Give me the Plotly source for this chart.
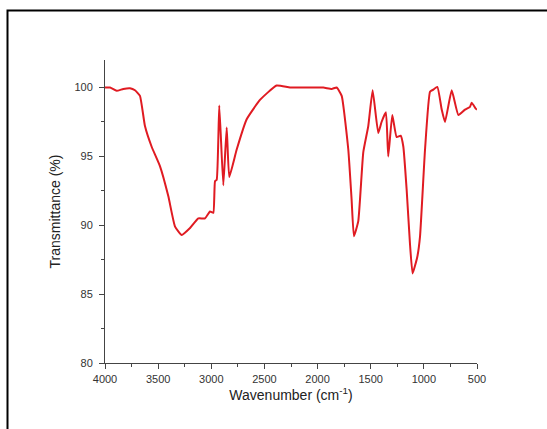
import plotly.graph_objects as go

wavenumber = [4000, 3953, 3890, 3828, 3765, 3718, 3671, 3624, 3561, 3483, 3404, 3341, 3278,
              3200, 3122, 3059, 3012, 2981, 2965, 2949, 2925, 2887, 2855, 2831, 2761, 2667,
              2542, 2385, 2259, 2100, 1946, 1867, 1820, 1773, 1711, 1680, 1658, 1617, 1570,
              1523, 1482, 1429, 1398, 1357, 1335, 1297, 1256, 1218, 1193, 1162, 1131, 1106,
              1062, 1036, 989, 942, 911, 873, 832, 801, 738, 675, 613, 566, 550, 510, 500]
transmittance = [100.0, 100.0, 99.76, 99.9, 99.95, 99.8, 99.4, 97.2, 95.7, 94.3, 92.1, 89.9, 89.3,
                 89.8, 90.5, 90.5, 91.0, 90.9, 93.2, 93.3, 98.7, 92.9, 97.1, 93.5, 95.5, 97.7,
                 99.1, 100.15, 100.0, 100.0, 100.0, 99.9, 100.0, 99.4, 95.5, 91.9, 89.2, 90.3, 95.3,
                 97.2, 99.8, 96.7, 97.5, 98.2, 95.0, 98.0, 96.4, 96.5, 95.7, 92.6, 88.7, 86.5,
                 87.7, 89.2, 95.5, 99.7, 99.85, 100.05, 98.4, 97.5, 99.8, 98.0, 98.4, 98.6, 98.9, 98.45, 98.4]

x_ticks = [4000, 3500, 3000, 2500, 2000, 1500, 1000, 500]
y_ticks = [80, 85, 90, 95, 100]

fig = go.Figure()
fig.add_trace(go.Scatter(x=wavenumber, y=transmittance, mode="lines",
                         line=dict(color="#e01b22", width=2, shape="spline", smoothing=0.4),
                         showlegend=False))

axis_font = dict(family="Liberation Sans, Arial, sans-serif", size=11, color="#333333")
title_font = dict(family="Liberation Sans, Arial, sans-serif", size=14, color="#222222")

fig.update_xaxes(range=[4000, 500], tickvals=x_ticks, ticks="outside", ticklen=5, tickwidth=1,
                 tickcolor="#444444", showline=True, linecolor="#444444", linewidth=1,
                 showgrid=False, zeroline=False, tickfont=axis_font, ticklabelstandoff=1,
                 minor=dict(dtick=250, ticks="outside", ticklen=3, tickcolor="#444444", showgrid=False),
                 title=dict(text="Wavenumber (cm<sup>-1</sup>)", font=title_font, standoff=2))
fig.update_yaxes(range=[80, 102], tickvals=y_ticks, ticks="outside", ticklen=5, tickwidth=1,
                 tickcolor="#444444", showline=True, linecolor="#444444", linewidth=1,
                 showgrid=False, zeroline=False, tickfont=axis_font, ticklabelstandoff=4,
                 minor=dict(dtick=2.5, ticks="outside", ticklen=3, tickcolor="#444444", showgrid=False),
                 title=dict(text="Transmittance (%)", font=title_font, standoff=10))

fig.add_shape(type="rect", xref="paper", yref="paper",
              x0=(7.5 - 105) / 372, x1=(549 - 105) / 372,
              y0=(363 - 432) / 303, y1=(363 - 10.5) / 303,
              line=dict(color="black", width=2), fillcolor="rgba(0,0,0,0)", layer="below")

fig.update_layout(width=547, height=429, margin=dict(l=105, r=70, t=60, b=66),
                  paper_bgcolor="white", plot_bgcolor="white")

fig.write_html("out.html")
